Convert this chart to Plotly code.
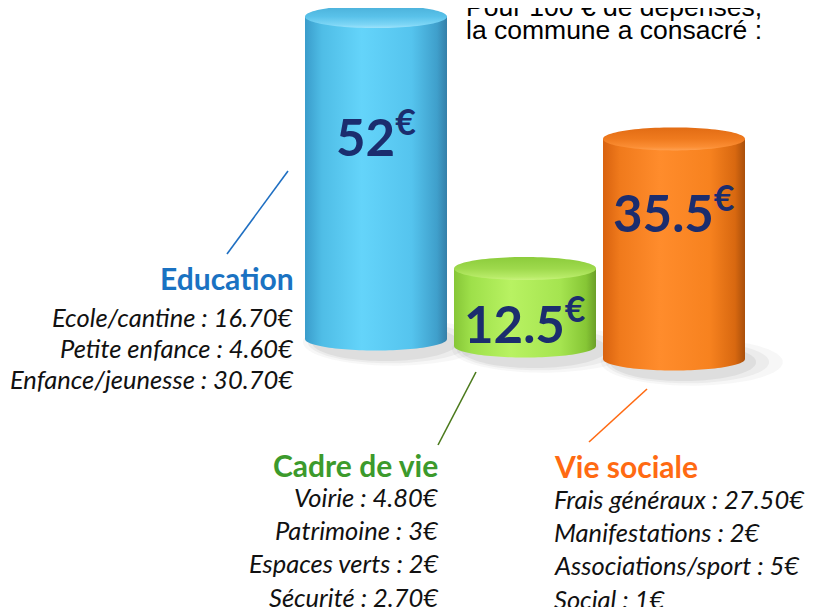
import numpy as np
import plotly.graph_objects as go

# ---------------- data ----------------
categories = ["Education", "Cadre de vie", "Vie sociale"]
values = [52, 12.5, 35.5]
education_items = ["Ecole/cantine : 16.70€", "Petite enfance : 4.60€", "Enfance/jeunesse : 30.70€"]
cadre_items = ["Voirie : 4.80€", "Patrimoine : 3€", "Espaces verts : 2€", "Sécurité : 2.70€"]
sociale_items = ["Frais généraux : 27.50€", "Manifestations : 2€", "Associations/sport : 5€", "Social : 1€"]
title_lines = ["Pour 100 € de dépenses,", "la commune a consacré :"]

# ---------------- styling ----------------
W, H = 823, 607
OFF = 8                          # page body margin of the html page
PX_X, PX_Y = 149.0, 6.2          # pixels per x unit / per euro
X0, Y0 = 376.0 - OFF, 339.0 - OFF  # pixel of first cylinder centre / its base
RX = 71 / PX_X                   # cylinder half-width (x units)
RY = 11.5 / PX_Y                 # ellipse half-height (y units)
base_drop_px = [0, 7, 20]        # perspective drop of each base
label_frac = [0.636, 0.335, 0.677]

body_scales = [
    [[0, "#3a9ccb"], [0.12, "#4fbde6"], [0.4, "#64d4fa"], [0.75, "#55c4ee"], [0.93, "#3f9fcb"], [1, "#357fa8"]],
    [[0, "#86c637"], [0.12, "#9ee04a"], [0.4, "#b8f262"], [0.75, "#a5e450"], [0.93, "#86c635"], [1, "#6b9f28"]],
    [[0, "#d8620f"], [0.12, "#f07a1c"], [0.4, "#ff8c2c"], [0.75, "#f7821f"], [0.93, "#d86810"], [1, "#a94f0b"]],
]
top_scales = [
    [[0, "#9ee2fa"], [0.15, "#7dd6f6"], [0.5, "#59c2ea"], [1, "#4aafd8"]],
    [[0, "#c8f27c"], [0.15, "#b6ea66"], [0.5, "#9ed94c"], [1, "#8ccc3c"]],
    [[0, "#ffa050"], [0.15, "#fb8e34"], [0.5, "#ef7a1e"], [1, "#e26c14"]],
]
num_color = "#1b2d6e"
head_colors = ["#1a72c2", "#3c9a2c", "#ff6a12"]
line_colors = ["#1f6fc2", "#4b7a1c", "#ff6a12"]
FONT = "Lato, Carlito, sans-serif"

fig = go.Figure()
t = np.linspace(0, np.pi, 60)
tt = np.linspace(0, 2 * np.pi, 100)

for i, v in enumerate(values):
    cx = i
    base = -base_drop_px[i] / PX_Y
    top = base + v
    # soft shadow
    for dx, sc, op in [(0.12, 1.28, 0.045), (0.09, 1.15, 0.06), (0.06, 1.03, 0.08)]:
        fig.add_trace(go.Scatter(
            x=cx + dx + RX * sc * np.cos(tt), y=base - 0.5 + RY * 1.6 * sc * np.sin(tt),
            fill="toself", fillcolor=f"rgba(60,60,60,{op})", mode="none", hoverinfo="skip"))
    # body
    bx = np.concatenate([[cx - RX, cx - RX], cx - RX * np.cos(t), [cx + RX, cx - RX]])
    by = np.concatenate([[top, base], base - RY * np.sin(t), [top, top]])
    fig.add_trace(go.Scatter(
        x=bx, y=by, fill="toself", mode="none", hoverinfo="skip",
        fillgradient=dict(type="horizontal", colorscale=body_scales[i])))
    # top cap
    fig.add_trace(go.Scatter(
        x=cx + RX * np.cos(tt), y=top + RY * np.sin(tt), fill="toself", mode="none",
        hoverinfo="skip",
        fillgradient=dict(type="vertical", colorscale=top_scales[i])))
    # value label
    fig.add_annotation(
        x=cx, y=base + v * label_frac[i], xref="x", yref="y", showarrow=False,
        text=f"<b>{v:g}<sup>€</sup></b>",
        font=dict(family=FONT, size=51, color=num_color),
        xanchor="center", yanchor="middle")


def px(x, y):
    return (x - OFF) / W, 1 - (y - OFF) / H


# title
for j, (line, ypx) in enumerate(zip(title_lines, [7, 30])):
    ax, ay = px(464, ypx)
    fig.add_annotation(x=ax, y=ay, xref="paper", yref="paper", text=line, showarrow=False,
                       xanchor="left", yanchor="middle",
                       font=dict(family="Liberation Sans, Arial", size=26.5, color="#000000"))

# leader lines
leaders = [((227, 254), (288, 171)), ((438, 445), (476, 372)), ((589, 442), (647, 389))]
for (p0, p1), c in zip(leaders, line_colors):
    a = px(*p0); b = px(*p1)
    fig.add_shape(type="line", xref="paper", yref="paper", x0=a[0], y0=a[1], x1=b[0], y1=b[1],
                  line=dict(color=c, width=1.6))

# category headings and details
groups = [
    (categories[0], education_items, 296, 296, "right", 278, 317, 31),
    (categories[1], cadre_items, 440, 441, "right", 465, 497, 33.2),
    (categories[2], sociale_items, 552, 552, "left", 466, 499, 33.2),
]
for i, (name, items, xh, xi, anchor, yhead, yfirst, dy) in enumerate(groups):
    ax, ay = px(xh, yhead)
    fig.add_annotation(x=ax, y=ay, xref="paper", yref="paper", text=f"<b>{name}</b>",
                       showarrow=False, xanchor=anchor, yanchor="middle",
                       font=dict(family=FONT, size=30, color=head_colors[i]))
    for k, it in enumerate(items):
        ax, ay = px(xi, yfirst + dy * k)
        fig.add_annotation(x=ax, y=ay, xref="paper", yref="paper", text=f"<i>{it}</i>",
                           showarrow=False, xanchor=anchor, yanchor="middle",
                           font=dict(family=FONT, size=25.5, color="#111111"))

fig.update_layout(
    width=W, height=H, margin=dict(l=0, r=0, t=0, b=0),
    paper_bgcolor="white", plot_bgcolor="white", showlegend=False,
    xaxis=dict(range=[-X0 / PX_X, (W - X0) / PX_X], visible=False, fixedrange=True),
    yaxis=dict(range=[-(H - Y0) / PX_Y, Y0 / PX_Y], visible=False, fixedrange=True),
)
fig.write_html("out.html")
